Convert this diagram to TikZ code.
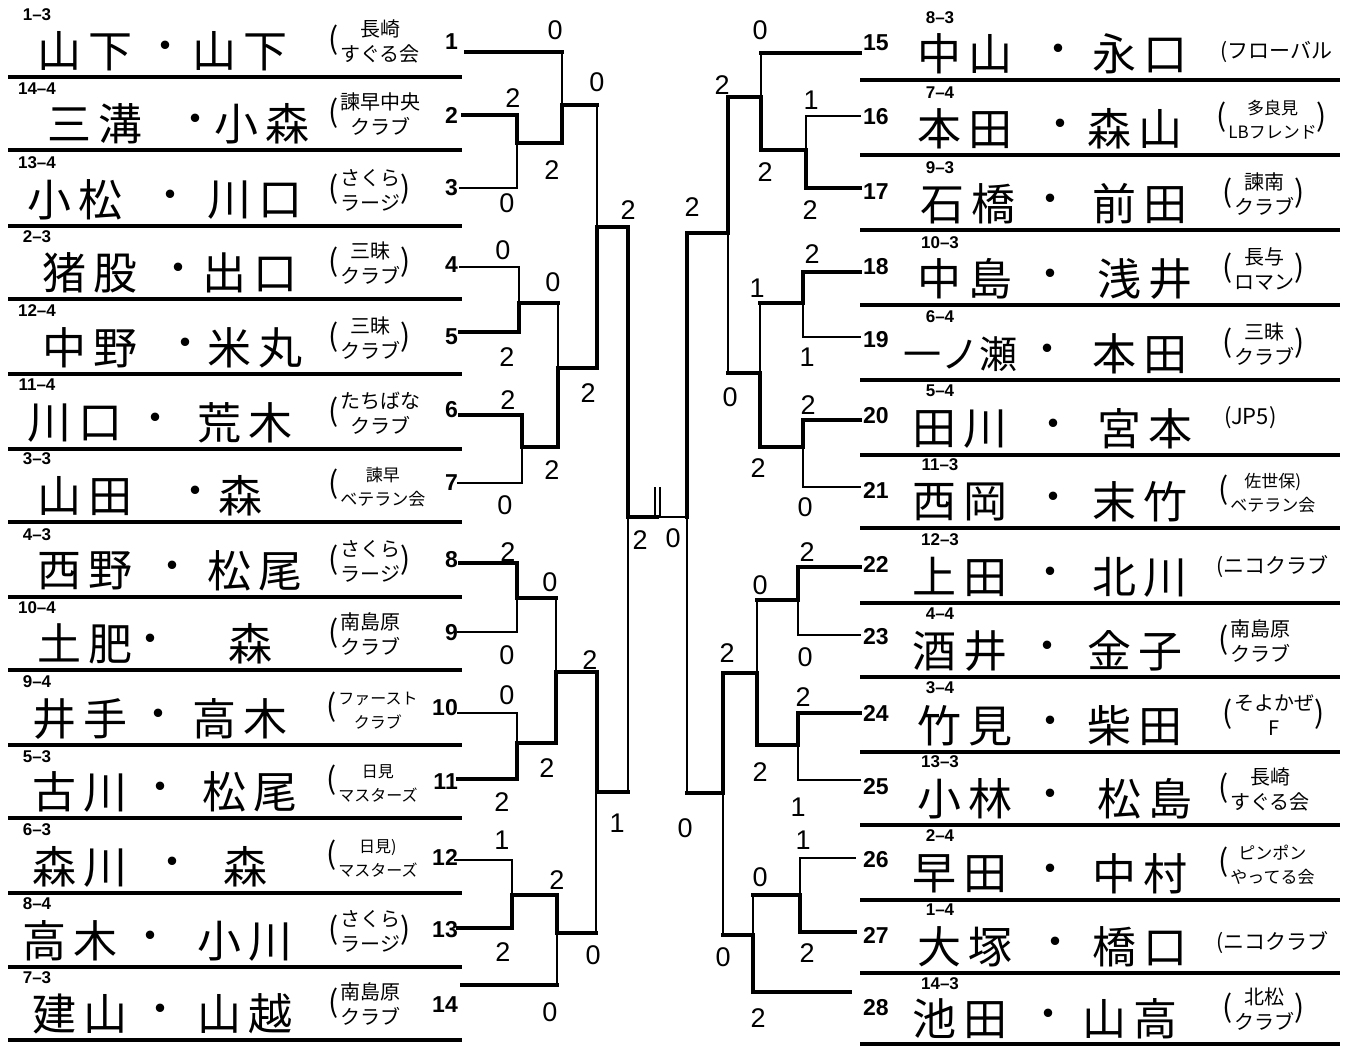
\documentclass[tikz,border=0pt]{standalone}
\usepackage{fontspec}
\setmainfont{Liberation Sans}
\newfontfamily\jpname[LetterSpace=15]{Noto Sans CJK JP}
\newfontfamily\jpf{Noto Sans CJK JP}
\newcommand\clubtwo[3]{{\fontsize{30}{30}\selectfont(}\kern2pt\begin{tabular}{@{}c@{}}#1\\[1pt]#2\end{tabular}{\fontsize{30}{30}\selectfont#3}}
\renewcommand\arraystretch{1}
\tikzset{
  thk/.style={line width=4.5pt, line join=miter, line cap=rect},
  thn/.style={line width=1.6pt, line cap=rect},
  sep/.style={line width=4pt},
  code/.style={font=\bfseries\fontsize{17}{17}\selectfont, inner sep=0pt},
  num/.style={font=\bfseries\fontsize{23}{23}\selectfont, inner sep=0pt},
  nm/.style={font=\jpname\fontsize{44}{44}\selectfont, inner sep=0pt},
  dotn/.style={font=\jpf\fontsize{40}{40}\selectfont, inner sep=0pt},
  cl/.style={font=\jpf\fontsize{20}{24}\selectfont, inner sep=0pt, anchor=west},
  cls/.style={font=\jpf\fontsize{17}{23}\selectfont, inner sep=0pt, anchor=west},
  clxs/.style={font=\jpf\fontsize{16}{23}\selectfont, inner sep=0pt, anchor=west},
  sc/.style={font=\fontsize{27}{27}\selectfont, inner sep=0pt},
}
\begin{document}
\begin{tikzpicture}[x=1pt,y=-1pt]
\useasboundingbox[fill=white] (0,0) rectangle (1346,1046);
% separator lines
\foreach \y in {77,150,226,299,374,449,522,597,670,745,818,893,967,1040}
  \draw[sep] (8,\y) -- (462,\y);
\foreach \y in {80,155,230,305,380,455,528,603,677,752,825,900,973,1044}
  \draw[sep] (860,\y) -- (1340,\y);
% codes left
\foreach \i/\c/\y in {1/1–3/15,2/14–4/89,3/13–4/163,4/2–3/237,5/12–4/311,6/11–4/385,7/3–3/459,8/4–3/535,9/10–4/608,10/9–4/682,11/5–3/757,12/6–3/830,13/8–4/904,14/7–3/978}
  \node[code] (cd\i) at (37,\y) {\c};
% codes right
\foreach \i/\c/\y in {15/8–3/18,16/7–4/93,17/9–3/168,18/10–3/243,19/6–4/317,20/5–4/391,21/11–3/465,22/12–3/540,23/4–4/614,24/3–4/688,25/13–3/762,26/2–4/836,27/1–4/910,28/14–3/984}
  \node[code] (cd\i) at (940,\y) {\c};
% numbers left
\foreach \i/\y in {1/42,2/115,3/188,4/265,5/337,6/410,7/483,8/560,9/633,10/708,11/782,12/857,13/930,14/1005}
  \node[num,anchor=east] (n\i) at (458,\y) {\i};
% numbers right
\foreach \i/\y in {15/43,16/117,17/192,18/267,19/340,20/416,21/490,22/564,23/637,24/713,25/787,26/860,27/935,28/1008}
  \node[num,anchor=west] (n\i) at (863,\y) {\i};
% names
\foreach \i/\a/\xa/\dx/\b/\xb/\y in {1/山下/85/165/山下/240/51,2/三溝/95/195/小森/262/124,3/小松/75/170/川口/255/200,4/猪股/90/178/出口/250/273,5/中野/90/185/米丸/255/348,6/川口/75/155/荒木/245/423,7/山田/85/195/森/240/496,8/西野/85/172/松尾/255/571,9/土肥/85/150/森/250/644,10/井手/80/158/高木/240/719,11/古川/80/160/松尾/250/792,12/森川/80/172/森/245/867,13/高木/70/150/小川/245/941,14/建山/80/160/山越/245/1014,15/中山/965/1058/永口/1140/54,16/本田/965/1060/森山/1135/129,17/石橋/968/1050/前田/1140/204,18/中島/965/1050/浅井/1145/279,20/田川/960/1053/宮本/1145/429,21/西岡/960/1053/末竹/1140/502,22/上田/960/1050/北川/1140/577,23/酒井/960/1047/金子/1135/651,24/竹見/965/1050/柴田/1135/726,25/小林/965/1050/松島/1145/799,26/早田/960/1050/中村/1140/874,27/大塚/965/1055/橋口/1140/947,28/池田/960/1048/山高/1130/1019}
{
  \node[nm] (na\i) at (\xa,\y) {\a};
  \node[dotn] (dt\i) at (\dx,\y) {・};
  \node[nm] (nb\i) at (\xb,\y) {\b};
}
\node[font=\jpf\fontsize{38}{38}\selectfont, inner sep=0pt] (na19) at (960,354) {一ノ瀬};
\node[dotn] (dt19) at (1047,354) {・};
\node[nm] (nb19) at (1140,354) {本田};
% clubs left
\node[cl] (c1) at (328,44) {\clubtwo{長崎}{すぐる会}{}};
\node[cl] (c2) at (328,117) {\clubtwo{諫早中央}{クラブ}{}};
\node[cl] (c3) at (328,193) {\clubtwo{さくら}{ラージ}{)}};
\node[cl] (c4) at (328,266) {\clubtwo{三昧}{クラブ}{)}};
\node[cl] (c5) at (328,341) {\clubtwo{三昧}{クラブ}{)}};
\node[cl] (c6) at (328,416) {\clubtwo{たちばな}{クラブ}{}};
\node[cls] (c7) at (328,489) {\clubtwo{諫早}{ベテラン会}{}};
\node[cl] (c8) at (328,564) {\clubtwo{さくら}{ラージ}{)}};
\node[cl] (c9) at (328,637) {\clubtwo{南島原}{クラブ}{}};
\node[clxs] (c10) at (326,712) {\clubtwo{ファースト}{クラブ}{}};
\node[clxs] (c11) at (326,785) {\clubtwo{日見}{マスターズ}{}};
\node[clxs] (c12) at (326,860) {\clubtwo{日見)}{マスターズ}{}};
\node[cl] (c13) at (328,934) {\clubtwo{さくら}{ラージ}{)}};
\node[cl] (c14) at (328,1007) {\clubtwo{南島原}{クラブ}{}};
% clubs right
\node[cl,font=\jpf\fontsize{21}{21}\selectfont] (c15) at (1220,52) {(フローバル};
\node[cls] (c16) at (1216,122) {\clubtwo{多良見}{LBフレンド}{)}};
\node[cl] (c17) at (1222,197) {\clubtwo{諫南}{クラブ}{)}};
\node[cl] (c18) at (1222,272) {\clubtwo{長与}{ロマン}{)}};
\node[cl] (c19) at (1222,347) {\clubtwo{三昧}{クラブ}{)}};
\node[cl,font=\jpf\fontsize{22}{22}\selectfont] (c20) at (1224,418) {(JP5)};
\node[cls] (c21) at (1218,495) {\clubtwo{佐世保)}{ベテラン会}{}};
\node[cl,font=\jpf\fontsize{21}{21}\selectfont] (c22) at (1216,567) {(ニコクラブ};
\node[cl] (c23) at (1218,644) {\clubtwo{南島原}{クラブ}{}};
\node[cl] (c24) at (1222,718) {\clubtwo{そよかぜ}{F}{)}};
\node[cl] (c25) at (1218,792) {\clubtwo{長崎}{すぐる会}{}};
\node[cls] (c26) at (1218,867) {\clubtwo{ピンポン}{やってる会}{}};
\node[cl,font=\jpf\fontsize{21}{21}\selectfont] (c27) at (1216,943) {(ニコクラブ};
\node[cl] (c28) at (1222,1012) {\clubtwo{北松}{クラブ}{)}};
% ---------- left bracket ----------
\draw[thk] (466,52) -- (562,52);
\draw[thn] (562,52) -- (562,105);
\draw[thk] (463,115) -- (517,115) -- (517,143) -- (562,143) -- (562,105) -- (597,105);
\draw[thn] (517,143) -- (517,188) -- (460,188);
\draw[thn] (597,105) -- (597,227);
\draw[thk] (460,332) -- (519,332) -- (519,303) -- (558,303);
\draw[thn] (519,303) -- (519,267) -- (460,267);
\draw[thn] (558,303) -- (558,368);
\draw[thk] (460,415) -- (522,415) -- (522,447) -- (558,447) -- (558,368) -- (597,368) -- (597,227) -- (628,227) -- (628,517) -- (657,517);
\draw[thn] (522,447) -- (522,483) -- (458,483);
\draw[thk] (460,563) -- (517,563) -- (517,598) -- (556,598);
\draw[thn] (517,598) -- (517,632) -- (458,632);
\draw[thn] (556,598) -- (556,672);
\draw[thk] (458,779) -- (517,779) -- (517,743) -- (556,743) -- (556,672) -- (597,672) -- (597,792) -- (628,792);
\draw[thn] (517,743) -- (517,713) -- (458,713);
\draw[thk] (458,928) -- (512,928) -- (512,895) -- (557,895) -- (557,933) -- (596,933);
\draw[thn] (512,895) -- (512,860) -- (455,860);
\draw[thk] (462,985) -- (557,985);
\draw[thn] (557,933) -- (557,985);
\draw[thn] (596,933) -- (596,792);
\draw[thn] (628,792) -- (628,517);
\draw[thn] (657,517) -- (687,517);
\draw[line width=2.2pt] (655,487) -- (655,517) (660,487) -- (660,517);
% ---------- right bracket ----------
\draw[thk] (860,53) -- (761,53);
\draw[thn] (761,53) -- (761,97);
\draw[thk] (860,188) -- (806,188) -- (806,150) -- (761,150) -- (761,97) -- (728,97) -- (728,233) -- (687,233) -- (687,517);
\draw[thn] (860,116) -- (806,116) -- (806,150);
\draw[thk] (860,272) -- (803,272) -- (803,303) -- (760,303);
\draw[thn] (803,303) -- (803,337) -- (860,337);
\draw[thn] (760,303) -- (760,373);
\draw[thk] (860,420) -- (803,420) -- (803,447) -- (760,447) -- (760,373) -- (728,373);
\draw[thn] (803,447) -- (803,487) -- (860,487);
\draw[thn] (728,373) -- (728,233);
\draw[thk] (860,567) -- (798,567) -- (798,600) -- (757,600);
\draw[thn] (798,600) -- (798,635) -- (860,635);
\draw[thn] (757,600) -- (757,673);
\draw[thk] (860,713) -- (798,713) -- (798,745) -- (757,745) -- (757,673) -- (723,673) -- (723,793) -- (687,793);
\draw[thn] (798,745) -- (798,780) -- (860,780);
\draw[thn] (687,793) -- (687,517);
\draw[thk] (855,932) -- (800,932) -- (800,895) -- (753,895);
\draw[thn] (800,895) -- (800,858) -- (855,858);
\draw[thk] (850,992) -- (753,992) -- (753,935) -- (723,935);
\draw[thn] (753,895) -- (753,935);
\draw[thn] (723,935) -- (723,793);
% ---------- scores ----------
\foreach \k/\x/\y/\s in {a1/555/30/0,a2/597/82/0,a3/513/98/2,a4/552/170/2,a5/507/203/0,a6/503/250/0,a7/553/282/0,a8/507/357/2,a9/508/400/2,a10/588/393/2,a11/552/470/2,a12/505/505/0,a13/628/210/2,a14/508/552/2,a15/550/582/0,a16/507/655/0,a17/507/695/0,a18/590/660/2,a19/547/768/2,a20/502/802/2,a21/502/840/1,a22/557/880/2,a23/503/952/2,a24/593/955/0,a25/550/1012/0,a26/617/823/1,a27/640/540/2,a28/673/538/0,b1/760/30/0,b2/722/85/2,b3/811/100/1,b4/765/172/2,b5/810/210/2,b6/692/207/2,b7/812/254/2,b8/757/288/1,b9/807/357/1,b10/730/397/0,b11/808/405/2,b12/758/468/2,b13/805/507/0,b14/807/552/2,b15/760/585/0,b16/805/657/0,b17/727/653/2,b18/803/697/2,b19/760/772/2,b20/798/807/1,b21/685/828/0,b22/803/840/1,b23/760/877/0,b24/807/953/2,b25/723/957/0,b26/758/1018/2}
  \node[sc] (s\k) at (\x,\y) {\s};
\end{tikzpicture}
\end{document}
